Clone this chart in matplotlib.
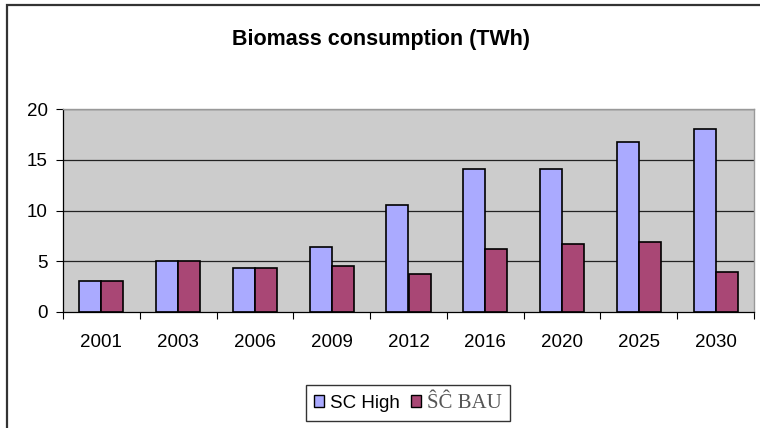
import matplotlib
matplotlib.use("Agg")
import matplotlib.pyplot as plt
import matplotlib.patches as mpatches
import numpy as np

years = ["2001", "2003", "2006", "2009", "2012", "2016", "2020", "2025", "2030"]
sc_high = [3.05, 5.0, 4.3, 6.4, 10.5, 14.1, 14.1, 16.7, 18.05]
sc_bau = [3.05, 5.0, 4.3, 4.5, 3.77, 6.17, 6.7, 6.87, 3.94]
yticks = [0, 5, 10, 15, 20]
title = "Biomass consumption (TWh)"
label_high = "SC High"
label_bau = "\u015c\u0108 BAU"

plt.rcParams['font.family'] = ['Liberation Sans', 'DejaVu Sans']

W, H = 760, 428
fig = plt.figure(figsize=(W / 100, H / 100), dpi=100)
fig.patch.set_facecolor('white')

# outer chart frame (left and top visible; extends past image)
frame = mpatches.Rectangle((7 / W, -0.1), 1.2, 1 - 5 / H + 0.1, transform=fig.transFigure,
                           fill=False, edgecolor='#333333', linewidth=1.6, zorder=0)
fig.patches.append(frame)

ax = fig.add_axes([63 / W, 1 - 312 / H, 691 / W, (312 - 109) / H])
ax.set_facecolor('#CCCCCC')

x = np.arange(len(years))
bw = 0.287
ax.bar(x - bw / 2, sc_high, bw, color='#AAAAFF', edgecolor='black', linewidth=1.2, zorder=3)
ax.bar(x + bw / 2, sc_bau, bw, color='#A94775', edgecolor='black', linewidth=1.2, zorder=3)

ax.set_xlim(-0.5, len(years) - 0.5)
ax.set_ylim(0, 20)
ax.set_yticks(yticks)
ax.set_yticklabels([str(v) for v in yticks], fontsize=13.5)
for v in yticks[1:]:
    ax.axhline(v, color='#222222', linewidth=0.9, zorder=1)

ax.set_xticks(x)
ax.set_xticklabels(years, fontsize=13.5)
ax.tick_params(axis='x', which='major', length=0, pad=16)
ax.set_xticks(np.arange(len(years) + 1) - 0.5, minor=True)
ax.tick_params(axis='x', which='minor', length=5, direction='out', color='black', width=0.8)
ax.tick_params(axis='y', which='major', length=5, direction='out', color='black', width=0.8, pad=6)

for side in ['top', 'right']:
    ax.spines[side].set_color('#999999')
    ax.spines[side].set_linewidth(1.0)
for side in ['left', 'bottom']:
    ax.spines[side].set_color('black')
    ax.spines[side].set_linewidth(0.9)
ax.spines['bottom'].set_zorder(4)

fig.text(381 / W, 1 - 40 / H, title, ha='center', va='center', fontsize=15.5,
         fontweight='bold')

# legend
handles = [mpatches.Patch(facecolor='#AAAAFF', edgecolor='black', linewidth=1.0),
           mpatches.Patch(facecolor='#A94775', edgecolor='black', linewidth=1.0)]
leg = fig.legend(handles, [label_high, label_bau], loc='center',
                 bbox_to_anchor=(408 / W, 1 - 403 / H), ncol=2, frameon=True,
                 fancybox=False, edgecolor='black', fontsize=13.5,
                 handlelength=0.55, handleheight=0.55, handletextpad=0.3,
                 columnspacing=0.6, borderpad=0.45)
leg.get_frame().set_linewidth(1.0)
txts = leg.get_texts()
txts[1].set_fontfamily(['Liberation Serif', 'DejaVu Serif'])
txts[1].set_color('#555555')
txts[1].set_fontsize(15)

fig.savefig('out.png', dpi=100)
